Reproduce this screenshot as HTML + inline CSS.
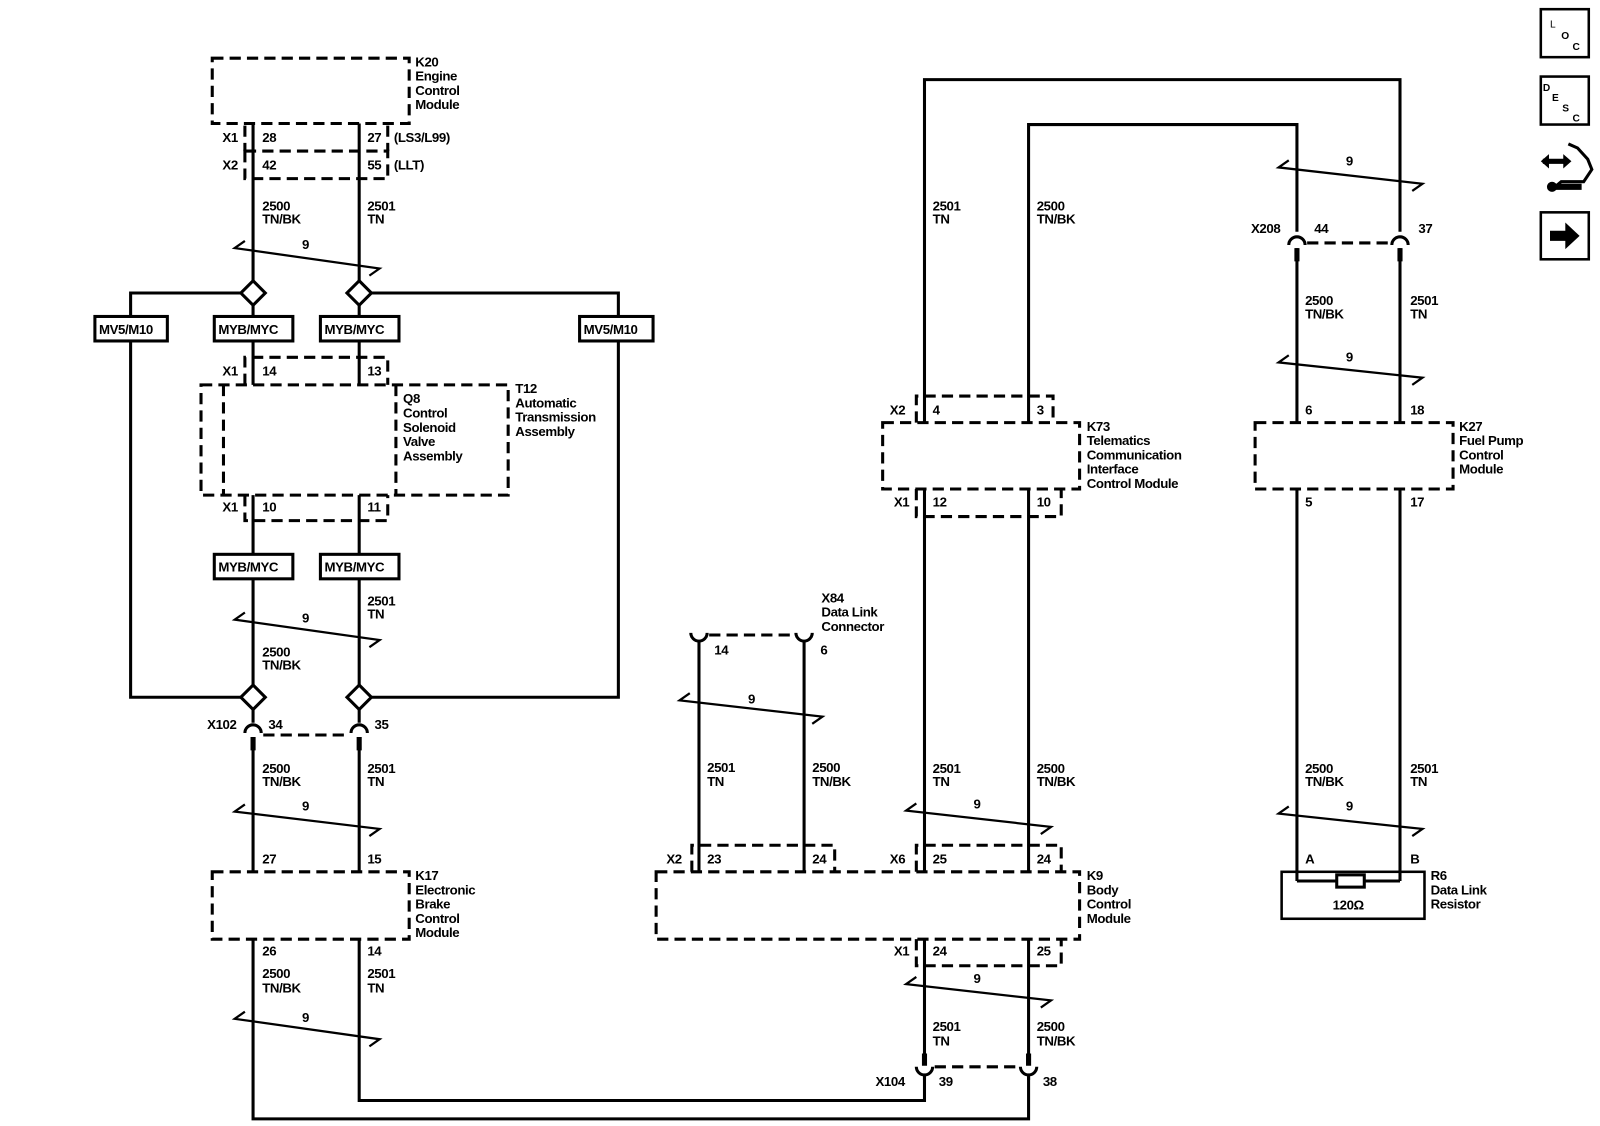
<!DOCTYPE html>
<html><head><meta charset="utf-8"><style>
html,body{margin:0;padding:0;background:#fff;}
svg{display:block;}
text{font-family:"Liberation Sans",Arial,sans-serif;font-size:13px;font-weight:bold;letter-spacing:-0.4px;fill:#000;}
.w{stroke:#000;stroke-width:3;fill:none;}
.d{stroke:#000;stroke-width:3;fill:none;stroke-dasharray:11,6;}
.t{stroke:#000;stroke-width:2.2;fill:none;}
.b{stroke:#000;stroke-width:3;fill:#fff;}
</style></head><body>
<svg width="1600" height="1126" viewBox="0 0 1568 1103" preserveAspectRatio="none" xmlns="http://www.w3.org/2000/svg">
<!-- ===== LEFT COLUMN ===== -->
<rect class="d" x="208" y="57" width="193" height="64"/>
<text x="407" y="65">K20</text><text x="407" y="79">Engine</text><text x="407" y="93">Control</text><text x="407" y="107">Module</text>
<line class="d" x1="240" y1="123" x2="240" y2="148" stroke-dasharray="6,4"/>
<line class="d" x1="380" y1="123" x2="380" y2="148" stroke-dasharray="6,4"/>
<rect class="d" x="240" y="148" width="140" height="27" stroke-dasharray="8,5"/>
<text x="218" y="139">X1</text><text x="257" y="139">28</text><text x="360" y="139">27</text><text x="386" y="139">(LS3/L99)</text>
<text x="218" y="166">X2</text><text x="257" y="166">42</text><text x="360" y="166">55</text><text x="386" y="166">(LLT)</text>
<path class="w" d="M248 121V275M352 121V275"/>
<text x="257" y="206">2500</text><text x="257" y="219">TN/BK</text>
<text x="360" y="206">2501</text><text x="360" y="219">TN</text>
<path class="t" d="M240 236L230 243L372 263L362 270"/><text x="296" y="244">9</text>
<path class="b" d="M248 275L260 287L248 299L236 287Z"/>
<path class="b" d="M352 275L364 287L352 299L340 287Z"/>
<path class="w" d="M236 287H128V310M364 287H606V310"/>
<path class="w" d="M248 299V310M352 299V310"/>
<rect class="b" x="93" y="310" width="71" height="24"/><text x="97" y="327">MV5/M10</text>
<rect class="b" x="210" y="310" width="77" height="24"/><text x="214" y="327">MYB/MYC</text>
<rect class="b" x="314" y="310" width="77" height="24"/><text x="318" y="327">MYB/MYC</text>
<rect class="b" x="568" y="310" width="72" height="24"/><text x="572" y="327">MV5/M10</text>
<path class="w" d="M128 334V683H236M606 334V683H364"/>
<path class="w" d="M248 334V377M352 334V377"/>
<path class="d" d="M240 377V350H380V377" stroke-dasharray="8,5"/>
<text x="218" y="368">X1</text><text x="257" y="368">14</text><text x="360" y="368">13</text>
<rect class="d" x="197" y="377" width="301" height="108"/>
<line class="d" x1="219" y1="377" x2="219" y2="485"/>
<line class="d" x1="388" y1="377" x2="388" y2="485"/>
<text x="395" y="395">Q8</text><text x="395" y="409">Control</text><text x="395" y="423">Solenoid</text><text x="395" y="437">Valve</text><text x="395" y="451">Assembly</text>
<text x="505" y="385">T12</text><text x="505" y="399">Automatic</text><text x="505" y="413">Transmission</text><text x="505" y="427">Assembly</text>
<path class="d" d="M240 485V510H380V485" stroke-dasharray="8,5"/>
<text x="218" y="501">X1</text><text x="257" y="501">10</text><text x="360" y="501">11</text>
<path class="w" d="M248 485V543M352 485V543"/>
<rect class="b" x="210" y="543" width="77" height="24"/><text x="214" y="560">MYB/MYC</text>
<rect class="b" x="314" y="543" width="77" height="24"/><text x="318" y="560">MYB/MYC</text>
<path class="w" d="M248 567V671M352 567V671"/>
<text x="360" y="593">2501</text><text x="360" y="606">TN</text>
<path class="t" d="M240 600L230 607L372 627L362 634"/><text x="296" y="610">9</text>
<text x="257" y="643">2500</text><text x="257" y="656">TN/BK</text>
<path class="b" d="M248 671L260 683L248 695L236 683Z"/>
<path class="b" d="M352 671L364 683L352 695L340 683Z"/>
<path class="w" d="M248 695V708M352 695V708"/>
<path class="w" d="M240 718A8 8 0 0 1 256 718M344 718A8 8 0 0 1 360 718"/>
<line class="d" x1="258" y1="720" x2="342" y2="720" stroke-dasharray="7,5"/>
<path class="w" d="M248 722V854M352 722V854"/>
<path stroke="#000" stroke-width="5" d="M248 722V735M352 722V735"/>
<text x="203" y="714">X102</text><text x="263" y="714">34</text><text x="367" y="714">35</text>
<text x="257" y="757">2500</text><text x="257" y="770">TN/BK</text>
<text x="360" y="757">2501</text><text x="360" y="770">TN</text>
<path class="t" d="M240 788L230 795L372 812L362 819"/><text x="296" y="794">9</text>
<text x="257" y="846">27</text><text x="360" y="846">15</text>
<rect class="d" x="208" y="854" width="193" height="66"/>
<text x="407" y="862">K17</text><text x="407" y="876">Electronic</text><text x="407" y="890">Brake</text><text x="407" y="904">Control</text><text x="407" y="918">Module</text>
<text x="257" y="936">26</text><text x="360" y="936">14</text>
<text x="257" y="958">2500</text><text x="257" y="972">TN/BK</text>
<text x="360" y="958">2501</text><text x="360" y="972">TN</text>
<path class="t" d="M240 991L230 998L372 1018L362 1025"/><text x="296" y="1001">9</text>
<path class="w" d="M248 920V1096H1008V1055M352 920V1078H906V1055"/>

<!-- ===== MIDDLE ===== -->
<text x="805" y="590">X84</text><text x="805" y="604">Data Link</text><text x="805" y="618">Connector</text>
<path class="w" d="M677 620A8 8 0 0 0 693 620M780 620A8 8 0 0 0 796 620"/>
<line class="d" x1="695" y1="622" x2="778" y2="622" stroke-dasharray="7,5"/>
<path class="w" d="M685 628V854M788 628V854"/>
<text x="700" y="641">14</text><text x="804" y="641">6</text>
<path class="t" d="M676 679L666 686L806 702L796 709"/><text x="733" y="689">9</text>
<text x="693" y="756">2501</text><text x="693" y="770">TN</text>
<text x="796" y="756">2500</text><text x="796" y="770">TN/BK</text>
<path class="d" d="M678 854V828H818V854" stroke-dasharray="8,5"/>
<text x="653" y="846">X2</text><text x="693" y="846">23</text><text x="796" y="846">24</text>
<rect class="d" x="643" y="854" width="415" height="66"/>
<text x="1065" y="862">K9</text><text x="1065" y="876">Body</text><text x="1065" y="890">Control</text><text x="1065" y="904">Module</text>
<path class="d" d="M898 854V828H1040V854" stroke-dasharray="8,5"/>
<text x="872" y="846">X6</text><text x="914" y="846">25</text><text x="1016" y="846">24</text>
<path class="d" d="M898 920V946H1040V920" stroke-dasharray="8,5"/>
<text x="876" y="936">X1</text><text x="914" y="936">24</text><text x="1016" y="936">25</text>
<path class="w" d="M906 920V1042M1008 920V1042"/>
<path stroke="#000" stroke-width="5" d="M906 1032V1044M1008 1032V1044"/>
<path class="w" d="M898 1045A8 8 0 0 0 914 1045M1000 1045A8 8 0 0 0 1016 1045"/>
<line class="d" x1="916" y1="1045" x2="998" y2="1045" stroke-dasharray="7,5"/>
<path class="w" d="M906 1053V1058M1008 1053V1058"/>
<path class="t" d="M898 957L888 964L1030 980L1020 987"/><text x="954" y="963">9</text>
<text x="914" y="1010">2501</text><text x="914" y="1024">TN</text>
<text x="1016" y="1010">2500</text><text x="1016" y="1024">TN/BK</text>
<text x="858" y="1064">X104</text><text x="920" y="1064">39</text><text x="1022" y="1064">38</text>

<!-- K73 -->
<path class="w" d="M906 414V78H1372V227M1008 414V122H1271V227"/>
<path class="w" d="M906 479V854M1008 479V854"/>
<text x="914" y="206">2501</text><text x="914" y="219">TN</text>
<text x="1016" y="206">2500</text><text x="1016" y="219">TN/BK</text>
<path class="d" d="M898 414V388H1032V414" stroke-dasharray="8,5"/>
<text x="872" y="406">X2</text><text x="914" y="406">4</text><text x="1016" y="406">3</text>
<rect class="d" x="865" y="414" width="193" height="65"/>
<text x="1065" y="422">K73</text><text x="1065" y="436">Telematics</text><text x="1065" y="450">Communication</text><text x="1065" y="464">Interface</text><text x="1065" y="478">Control Module</text>
<path class="d" d="M898 479V506H1040V479" stroke-dasharray="8,5"/>
<text x="876" y="496">X1</text><text x="914" y="496">12</text><text x="1016" y="496">10</text>
<path class="t" d="M898 787L888 794L1030 810L1020 817"/><text x="954" y="792">9</text>
<text x="914" y="757">2501</text><text x="914" y="770">TN</text>
<text x="1016" y="757">2500</text><text x="1016" y="770">TN/BK</text>

<!-- ===== RIGHT ===== -->
<path class="t" d="M1263 157L1253 164L1394 180L1384 187"/><text x="1319" y="162">9</text>
<path class="w" d="M1263 240A8 8 0 0 1 1279 240M1364 240A8 8 0 0 1 1380 240"/>
<line class="d" x1="1281" y1="238" x2="1362" y2="238" stroke-dasharray="7,5"/>
<path stroke="#000" stroke-width="5" d="M1271 243V256M1372 243V256"/>
<path class="w" d="M1271 243V414M1372 243V414M1271 479V863M1372 479V863"/>
<text x="1226" y="228">X208</text><text x="1288" y="228">44</text><text x="1390" y="228">37</text>
<text x="1279" y="299">2500</text><text x="1279" y="312">TN/BK</text>
<text x="1382" y="299">2501</text><text x="1382" y="312">TN</text>
<path class="t" d="M1263 348L1253 355L1394 370L1384 377"/><text x="1319" y="354">9</text>
<text x="1279" y="406">6</text><text x="1382" y="406">18</text>
<rect class="d" x="1230" y="414" width="194" height="65"/>
<text x="1430" y="422">K27</text><text x="1430" y="436">Fuel Pump</text><text x="1430" y="450">Control</text><text x="1430" y="464">Module</text>
<text x="1279" y="496">5</text><text x="1382" y="496">17</text>
<text x="1279" y="757">2500</text><text x="1279" y="770">TN/BK</text>
<text x="1382" y="757">2501</text><text x="1382" y="770">TN</text>
<path class="t" d="M1263 790L1253 797L1394 812L1384 819"/><text x="1319" y="794">9</text>
<text x="1279" y="846">A</text><text x="1382" y="846">B</text>
<rect x="1256" y="854" width="140" height="46" fill="none" stroke="#000" stroke-width="2.5"/>
<path class="w" d="M1271 863H1372"/>
<rect x="1310" y="857" width="27" height="12" fill="#fff" stroke="#000" stroke-width="3"/>
<text x="1306" y="891">120Ω</text>
<text x="1402" y="862">R6</text><text x="1402" y="876">Data Link</text><text x="1402" y="890">Resistor</text>

<!-- ===== ICONS ===== -->
<rect x="1510" y="9" width="47" height="47" fill="none" stroke="#000" stroke-width="2.5"/>
<text x="1519" y="27" style="font-size:10px;font-weight:normal">L</text>
<text x="1530" y="38" style="font-size:10px">O</text>
<text x="1541" y="49" style="font-size:10px">C</text>
<rect x="1510" y="75" width="47" height="47" fill="none" stroke="#000" stroke-width="2.5"/>
<text x="1512" y="89" style="font-size:10px">D</text>
<text x="1521" y="99" style="font-size:10px">E</text>
<text x="1531" y="109" style="font-size:10px">S</text>
<text x="1541" y="119" style="font-size:10px">C</text>
<path d="M1512 158H1537" stroke="#000" stroke-width="5"/>
<path d="M1510 158L1518 151V165Z M1540 158L1532 151V165Z" fill="#000"/>
<path d="M1537 141L1546 145L1556 156L1560 166L1552 178L1530 178L1524 183" fill="none" stroke="#000" stroke-width="3"/>
<path d="M1521 183H1550" stroke="#000" stroke-width="6"/>
<circle cx="1521" cy="183" r="5" fill="#000"/>
<rect x="1510" y="208" width="47" height="46" fill="none" stroke="#000" stroke-width="2.5"/>
<path d="M1519 226H1534V218L1548 231L1534 244V236H1519Z" fill="#000"/>
</svg>
</body></html>
